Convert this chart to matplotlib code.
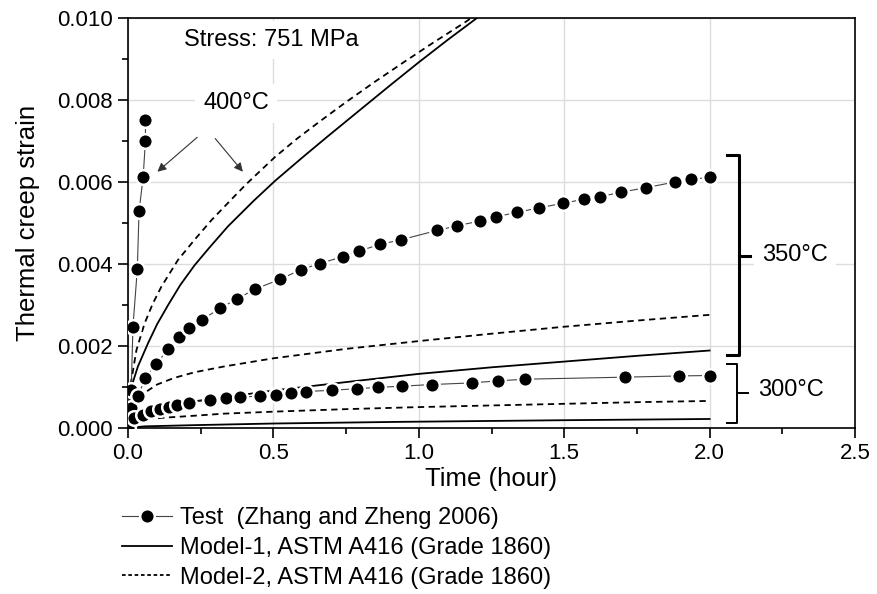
import numpy as np
import matplotlib.pyplot as plt
from matplotlib.lines import Line2D
from matplotlib.ticker import MultipleLocator, FormatStrFormatter

plt.rcParams['font.family'] = ['Liberation Sans', 'DejaVu Sans']

# test data (Zhang and Zheng 2006), time in hours
test400_t = [0, 0.011, 0.017, 0.032, 0.038, 0.052, 0.060, 0.060]
test400_e = [0, 0.00093, 0.00247, 0.00387, 0.00529, 0.00611, 0.00701, 0.00751]

test350_t = [0, 0.009, 0.035, 0.060, 0.097, 0.139, 0.175, 0.210, 0.254, 0.317, 0.375, 0.438,
             0.524, 0.594, 0.659, 0.739, 0.796, 0.868, 0.938, 1.064, 1.130, 1.211, 1.265,
             1.337, 1.414, 1.495, 1.568, 1.623, 1.695, 1.780, 1.881, 1.936, 2.001]
test350_e = [0, 0.00048, 0.00078, 0.00123, 0.00157, 0.00192, 0.00223, 0.00243, 0.00264, 0.00292,
             0.00315, 0.00339, 0.00363, 0.00386, 0.00401, 0.00418, 0.00432, 0.00448, 0.00459,
             0.00482, 0.00493, 0.00505, 0.00515, 0.00526, 0.00537, 0.00548, 0.00558, 0.00564,
             0.00575, 0.00586, 0.00600, 0.00607, 0.00611]

test300_t = [0, 0.021, 0.052, 0.080, 0.111, 0.140, 0.170, 0.209, 0.281, 0.338, 0.384, 0.453,
             0.510, 0.560, 0.611, 0.702, 0.789, 0.860, 0.941, 1.044, 1.182, 1.273, 1.365,
             1.709, 1.896, 2.001]
test300_e = [0, 0.00024, 0.00032, 0.00041, 0.00047, 0.00052, 0.00056, 0.00062, 0.00068, 0.00072,
             0.00075, 0.00078, 0.00081, 0.00085, 0.00089, 0.00092, 0.00096, 0.00099, 0.00102,
             0.00106, 0.00110, 0.00115, 0.00119, 0.00124, 0.00127, 0.00128]

# Model-1 (solid)
m1_400_t = [0, 0.005, 0.017, 0.034, 0.069, 0.1, 0.138, 0.18, 0.229, 0.28, 0.344, 0.432,
            0.506, 0.6, 0.688, 0.8, 0.9, 1.0, 1.1, 1.2]
m1_400_e = [0, 0.0006, 0.00112, 0.0015, 0.00207, 0.00253, 0.003, 0.00349, 0.00397, 0.0044,
            0.00492, 0.00554, 0.00603, 0.0066, 0.00712, 0.00777, 0.00835, 0.00892, 0.00947, 0.0100]
m1_350_t = [0, 0.02, 0.1, 0.216, 0.364, 0.506, 0.75, 1.0, 1.25, 1.5, 1.75, 2.0]
m1_350_e = [0, 0.00028, 0.00042, 0.00064, 0.00078, 0.00092, 0.00112, 0.00132, 0.00148, 0.00162, 0.00176, 0.00189]
m1_300_t = [0, 0.057, 0.23, 0.506, 0.938, 1.5, 2.0]
m1_300_e = [0, 0.00004, 0.00007, 0.00011, 0.00015, 0.00019, 0.00022]

# Model-2 (dashed)
m2_400_t = [0, 0.005, 0.01, 0.029, 0.057, 0.085, 0.115, 0.172, 0.23, 0.287, 0.363, 0.407,
            0.504, 0.58, 0.66, 0.75, 0.85, 0.95, 1.05, 1.16, 1.18]
m2_400_e = [0, 0.0008, 0.0011, 0.0019, 0.00255, 0.00303, 0.00345, 0.0041, 0.0046, 0.00507,
            0.00563, 0.00595, 0.0066, 0.00705, 0.00748, 0.00795, 0.00845, 0.00893, 0.0094, 0.0099, 0.0100]
m2_350_t = [0, 0.01, 0.055, 0.1, 0.158, 0.229, 0.33, 0.5, 0.75, 1.0, 1.25, 1.5, 1.75, 2.0]
m2_350_e = [0, 0.00045, 0.00085, 0.00106, 0.00122, 0.00136, 0.0015, 0.0017, 0.00193, 0.00212,
            0.0023, 0.00247, 0.00262, 0.00276]
m2_300_t = [0, 0.02, 0.057, 0.1, 0.23, 0.33, 0.506, 0.75, 1.0, 1.25, 1.5, 1.75, 2.0]
m2_300_e = [0, 0.00012, 0.0002, 0.00024, 0.0003, 0.00035, 0.0004, 0.00046, 0.00051, 0.00055, 0.00059, 0.00063, 0.00066]

fig = plt.figure(figsize=(8.77, 5.94), dpi=100)
ax = fig.add_axes([128 / 877, 1 - 428 / 594, 727 / 877, 410 / 594])

dash = (0, (3.5, 2.5))
for t, e in [(m1_400_t, m1_400_e), (m1_350_t, m1_350_e), (m1_300_t, m1_300_e)]:
    ax.plot(t, e, color='black', lw=1.3, zorder=3)
for t, e in [(m2_400_t, m2_400_e), (m2_350_t, m2_350_e), (m2_300_t, m2_300_e)]:
    ax.plot(t, e, color='black', lw=1.3, linestyle=dash, zorder=3)

mk = dict(color='#444444', lw=0.8, marker='o', ms=10.5, mfc='black', mec='white', mew=1.8, zorder=5)
for t, e in [(test400_t, test400_e), (test350_t, test350_e), (test300_t, test300_e)]:
    ax.plot(t, e, **mk)

ax.set_xlim(0, 2.5)
ax.set_ylim(0, 0.010)
ax.xaxis.set_major_locator(MultipleLocator(0.5))
ax.xaxis.set_minor_locator(MultipleLocator(0.25))
ax.yaxis.set_major_locator(MultipleLocator(0.002))
ax.yaxis.set_minor_locator(MultipleLocator(0.001))
ax.xaxis.set_major_formatter(FormatStrFormatter('%.1f'))
ax.yaxis.set_major_formatter(FormatStrFormatter('%.3f'))
ax.grid(True, which='major', color='#dcdcdc', lw=1)
ax.set_axisbelow(True)
ax.tick_params(which='major', direction='out', length=7, width=1.2, labelsize=16, pad=4)
ax.tick_params(which='minor', direction='out', length=4.5, width=1.2)
for s in ax.spines.values():
    s.set_linewidth(1.2)

ax.set_xlabel('Time (hour)', fontsize=18.5, labelpad=2)
ax.set_ylabel('Thermal creep strain', fontsize=18.5, labelpad=12)

box = dict(facecolor='white', edgecolor='none', pad=6)
ax.text(0.494, 0.00946, 'Stress: 751 MPa', fontsize=17, ha='center', va='center', bbox=box, zorder=6)
ax.text(0.372, 0.00792, '400°C', fontsize=17, ha='center', va='center', bbox=box, zorder=6)
ax.text(2.294, 0.00422, '350°C', fontsize=17, ha='center', va='center', bbox=box, zorder=6)
ax.text(2.28, 0.00093, '300°C', fontsize=17, ha='center', va='center', bbox=box, zorder=6)

arrow = dict(arrowstyle='-|>', color='#333333', lw=0.8, mutation_scale=13, shrinkA=0, shrinkB=0)
ax.annotate('', xy=(0.101, 0.00625), xytext=(0.238, 0.00709), arrowprops=arrow)
ax.annotate('', xy=(0.395, 0.00625), xytext=(0.300, 0.00706), arrowprops=arrow)

# braces grouping the 350 and 300 degC curves
brace350 = (2.06, 2.102, 2.139, 0.00666, 0.0042, 0.00178)
brace300 = (2.06, 2.093, 2.132, 0.00156, 0.00085, 0.00012)
for (xl, xm, xr, top, mid, bot), lw in [(brace350, 2.2), (brace300, 1.4)]:
    ax.plot([xl, xm, xm, xl], [top, top, bot, bot], color='black', lw=lw, zorder=4)
    ax.plot([xm, xr], [mid, mid], color='black', lw=lw, zorder=4)

handles = [
    Line2D([], [], **mk),
    Line2D([], [], color='black', lw=1.3),
    Line2D([], [], color='black', lw=1.3, linestyle=(0, (2, 1.5))),
]
labels = ['Test  (Zhang and Zheng 2006)',
          'Model-1, ASTM A416 (Grade 1860)',
          'Model-2, ASTM A416 (Grade 1860)']
fig.legend(handles, labels, loc='upper left', bbox_to_anchor=(122 / 877, 1 - 507 / 594),
           frameon=False, fontsize=17, handlelength=2.1, handletextpad=0.35,
           labelspacing=0.33, borderpad=0, borderaxespad=0)

fig.savefig('out.png', dpi=100)
